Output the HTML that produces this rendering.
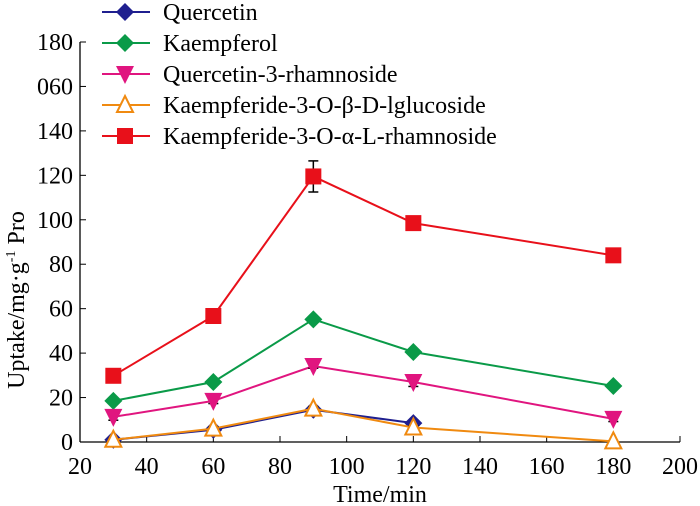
<!DOCTYPE html>
<html><head><meta charset="utf-8"><style>
body{margin:0;background:#fff}
svg{display:block;font-family:"Liberation Serif",serif}
</style></head><body>
<svg id="c" width="700" height="506"></svg>
<script>
const xTicks=[20,40,60,80,100,120,140,160,180,200];
const yTicks=[0,20,40,60,80,100,120,140,160,180];
const yTickLabels=["0","20","40","60","80","100","120","140","060","180"];
const times=[30,60,90,120,180];
const quercetin=[1,5.5,14.5,8.5];
const quercetinErr=[0.5,0.8,1,1];
const kaempferol=[18.5,27,55.2,40.5,25.2];
const kaempferolErr=[1,1,1,1,1.2];
const q3r=[11.3,18.5,34.2,27,10.4];
const q3rErr=[1.5,1.2,1,2,1.2];
const kglc=[1,6,15,6.5,0.3];
const kglcErr=[0.5,0.8,1,0.8,0.3];
const krha=[29.8,56.7,119.5,98.5,84];
const krhaErr=[1,1,7,3,1.5];
const names=["Quercetin","Kaempferol","Quercetin-3-rhamnoside","Kaempferide-3-O-β-D-lglucoside","Kaempferide-3-O-α-L-rhamnoside"];
const NS="http://www.w3.org/2000/svg";
const svg=document.getElementById('c');
const X=v=>80+(v-20)*600/180;
const Y=v=>442-v*400/180;
function mk(t,a,p){const e=document.createElementNS(NS,t);for(const k in a)e.setAttribute(k,a[k]);(p||svg).appendChild(e);return e;}
let ax=mk('line',{x1:80,y1:442,x2:680,y2:442,stroke:'#000','stroke-width':1.3});

let ay=mk('line',{x1:80,y1:42,x2:80,y2:442,stroke:'#000','stroke-width':1.3});

xTicks.forEach(v=>{mk('line',{x1:X(v),y1:442,x2:X(v),y2:436,stroke:'#000'});
 const t=mk('text',{x:X(v),y:474,'text-anchor':'middle','font-size':24});t.textContent=v;
 });
yTicks.forEach((v,i)=>{mk('line',{x1:80,y1:Y(v),x2:86,y2:Y(v),stroke:'#000'});
 const t=mk('text',{x:73,y:Y(v)+8,'text-anchor':'end','font-size':24});t.textContent=yTickLabels[i];
 });
const xt=mk('text',{x:380,y:502,'text-anchor':'middle','font-size':24});xt.textContent='Time/min';

const yt=mk('text',{x:0,y:0,'text-anchor':'middle','font-size':24,transform:'translate(24,300) rotate(-90)'});
yt.innerHTML='Uptake/mg·g<tspan dy="-9" font-size="14">-1</tspan><tspan dy="9"> Pro</tspan>';

function marker(type,color,x,y,g){
 if(type==='diamond')mk('polygon',{points:`${x},${y-9} ${x+9},${y} ${x},${y+9} ${x-9},${y}`,fill:color},g);
 else if(type==='down')mk('polygon',{points:`${x-9},${y-8} ${x+9},${y-8} ${x},${y+10}`,fill:color},g);
 else if(type==='up')mk('polygon',{points:`${x},${y-9} ${x+8},${y+7} ${x-8},${y+7}`,fill:'#fff',stroke:color,'stroke-width':2},g);
 else mk('rect',{x:x-8,y:y-8,width:16,height:16,fill:color},g);
}
const series=[[quercetin,quercetinErr,'#1f1f8f','diamond','series-quercetin'],
[kaempferol,kaempferolErr,'#0a9a48','diamond','series-kaempferol'],
[q3r,q3rErr,'#e0157f','down','series-quercetin-3-rhamnoside'],
[kglc,kglcErr,'#f08a10','up','series-kaempferide-glucoside'],
[krha,krhaErr,'#e8101a','square','series-kaempferide-rhamnoside']];
series.forEach(([vals,err,col,m,nm])=>{
 const g=mk('g',{});
 mk('polyline',{points:vals.map((v,i)=>X(times[i])+','+Y(v)).join(' '),fill:'none',stroke:col,'stroke-width':2},g);
 vals.forEach((v,i)=>{const x=X(times[i]);
  mk('line',{x1:x,y1:Y(v+err[i]),x2:x,y2:Y(v-err[i]),stroke:'#000','stroke-width':1.5},g);
  mk('line',{x1:x-5,y1:Y(v+err[i]),x2:x+5,y2:Y(v+err[i]),stroke:'#000','stroke-width':1.5},g);
  mk('line',{x1:x-5,y1:Y(v-err[i]),x2:x+5,y2:Y(v-err[i]),stroke:'#000','stroke-width':1.5},g);
  marker(m,col,x,Y(v),g);});
});
const ly=[12,43,74,105,136];
series.forEach(([v,e,col,m],i)=>{
 const g=mk('g',{});
 mk('line',{x1:102,y1:ly[i],x2:150,y2:ly[i],stroke:col,'stroke-width':2},g);
 marker(m,col,125,ly[i],g);
 const t=mk('text',{x:163,y:ly[i]+8,'font-size':24},g);t.textContent=names[i];
});
</script>
</body></html>
